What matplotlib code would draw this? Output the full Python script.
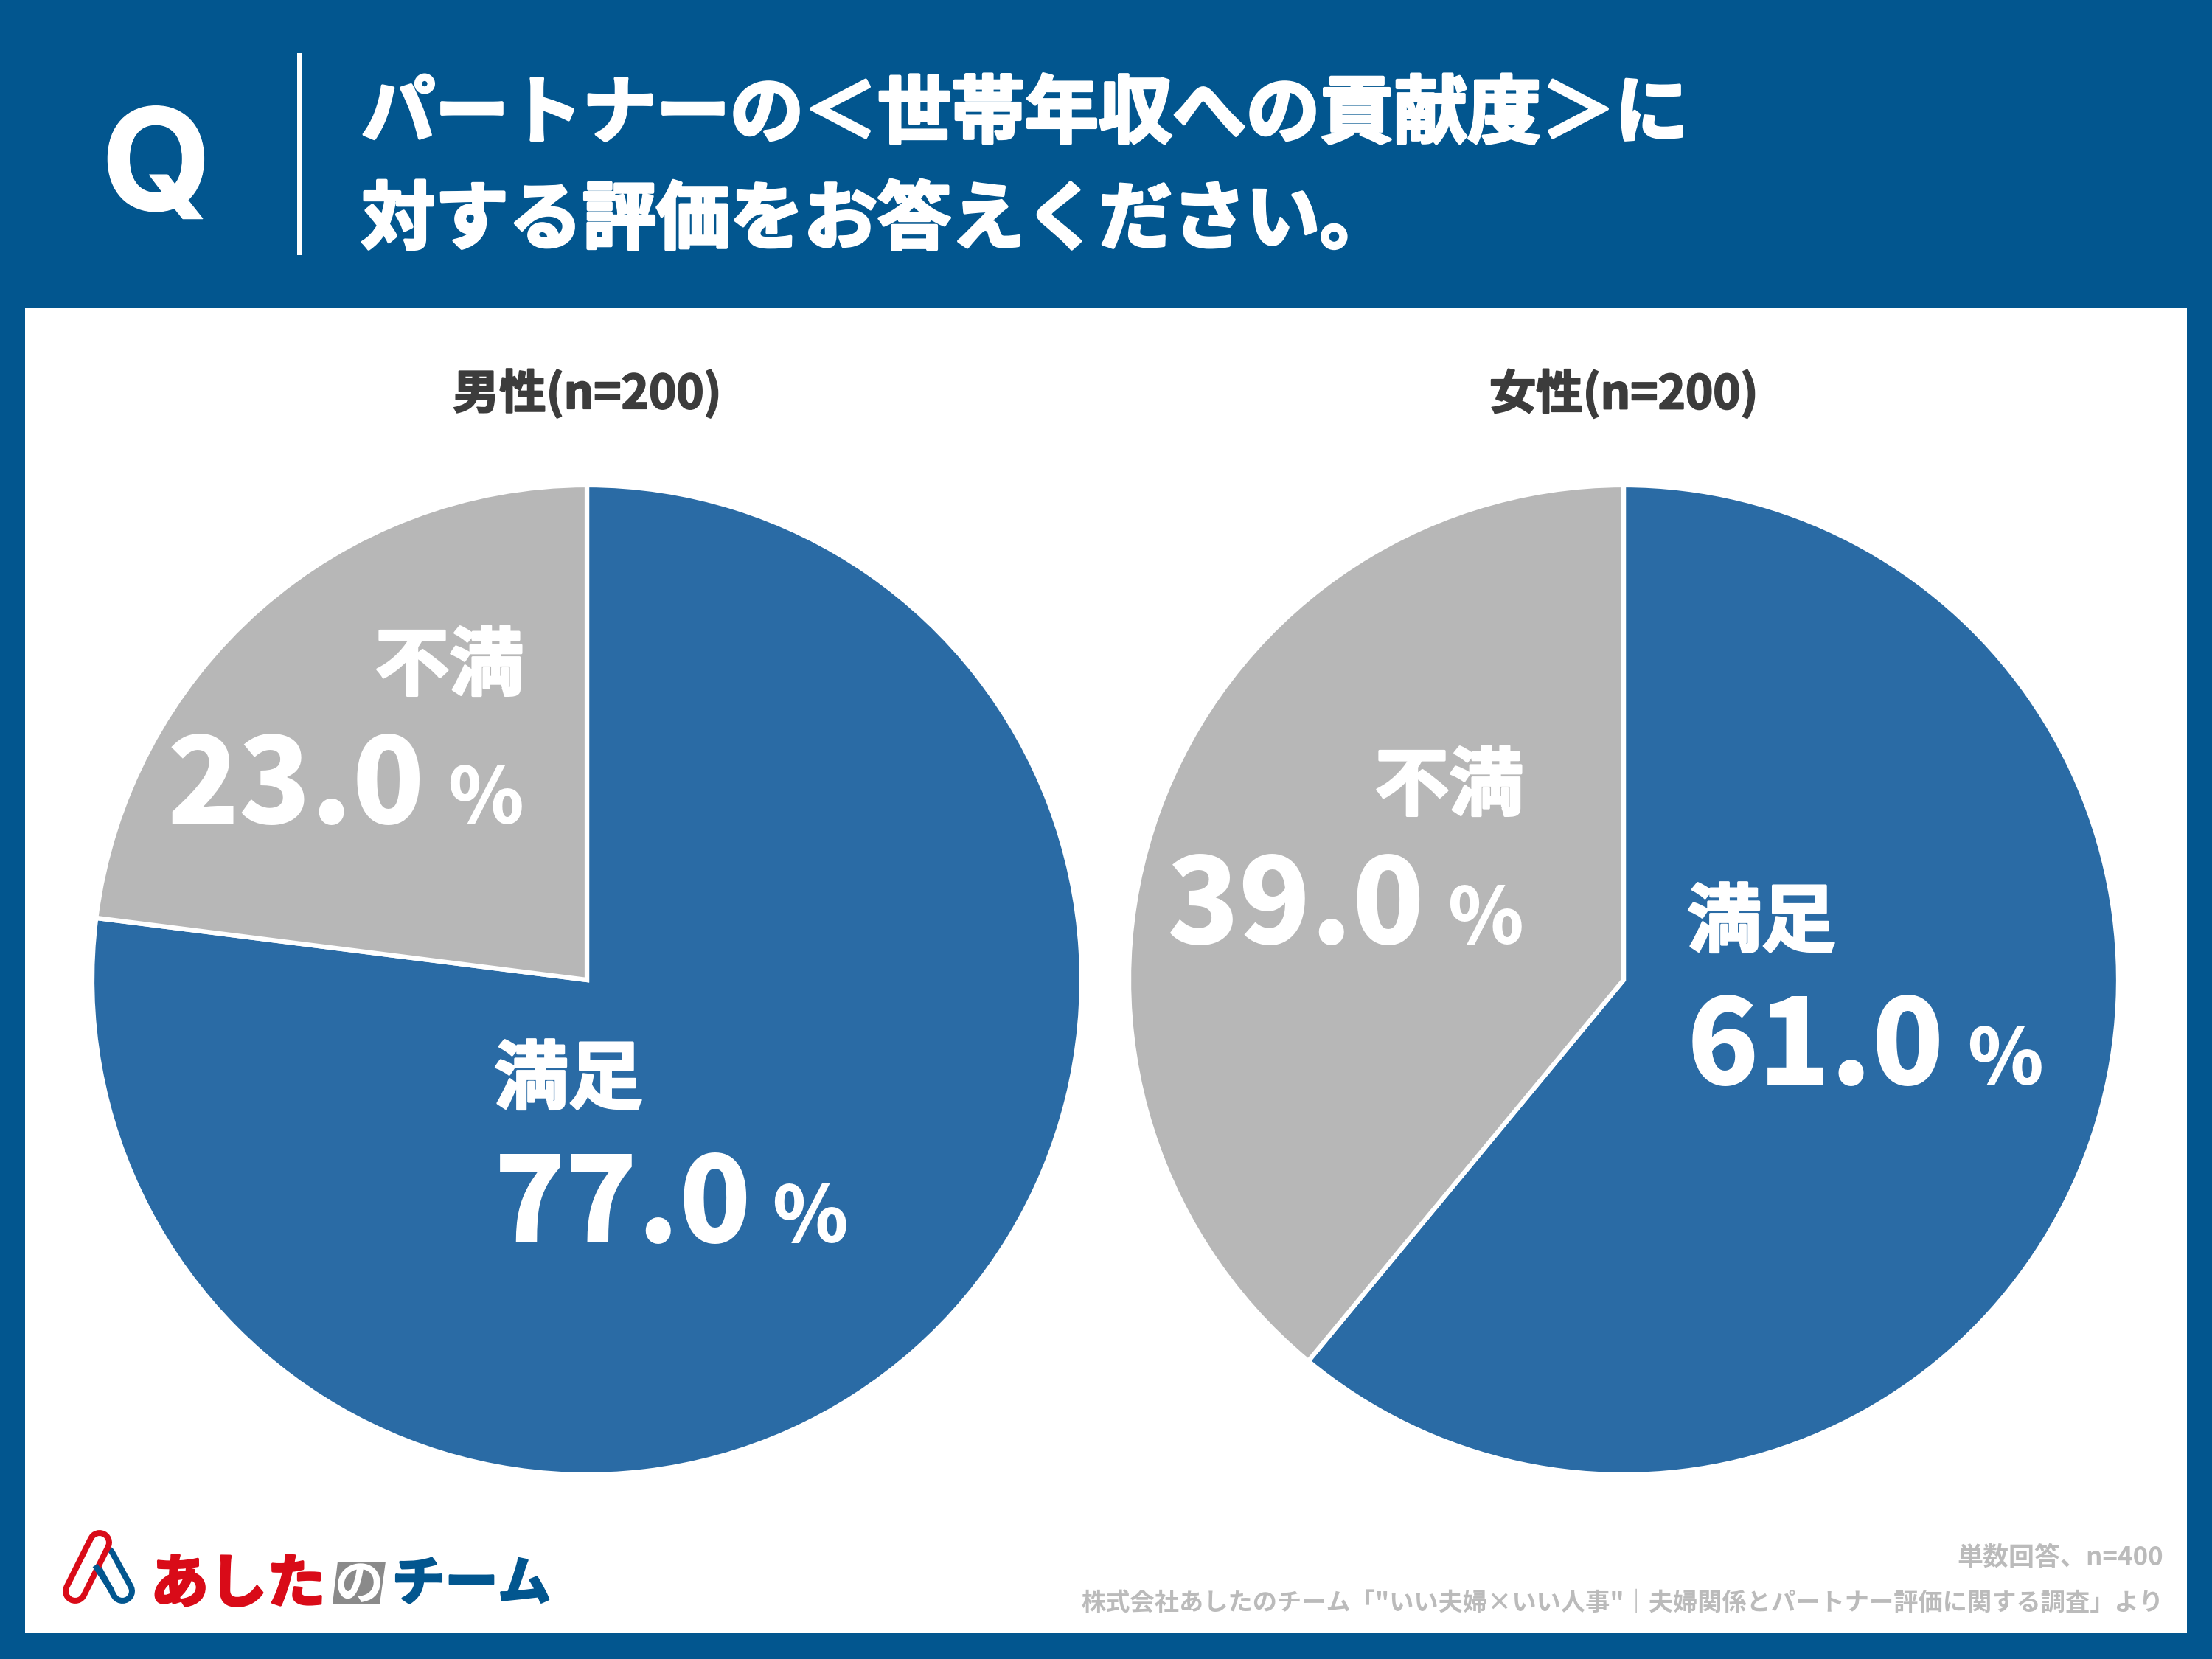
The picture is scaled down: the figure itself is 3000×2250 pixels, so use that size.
import matplotlib
matplotlib.use("Agg")
import matplotlib.pyplot as plt
import matplotlib.patheffects as pe
from matplotlib.patches import Rectangle, Polygon

CJK = ['Noto Sans CJK JP', 'DejaVu Sans']
plt.rcParams['font.family'] = CJK

title_lines = ["パートナーの＜世帯年収への貢献度＞に", "対する評価をお答えください。"]
groups = ["男性(n=200)", "女性(n=200)"]
categories = ["満足", "不満"]
male_values = [77.0, 23.0]
female_values = [61.0, 39.0]
footer_lines = ["単数回答、n=400", "株式会社あしたのチーム「\"いい夫婦×いい人事\"｜夫婦関係とパートナー評価に関する調査」より"]

BG = "#02568f"
BLUE = "#2a6ba5"
GREY = "#b7b7b7"
W, H = 3000, 2250

fig = plt.figure(figsize=(10, 7.5), dpi=300, facecolor=BG)
bg = fig.add_axes([0, 0, 1, 1])
bg.set_xlim(0, W); bg.set_ylim(H, 0); bg.axis("off")
bg.add_patch(Rectangle((34, 418), 2932, 1797, fc="white", ec="none"))
bg.add_patch(Rectangle((403, 72), 6, 274, fc="white", ec="none"))


def heavy(t, w):
    t.set_path_effects([pe.withStroke(linewidth=w, foreground=t.get_color())])
    return t


heavy(bg.text(212, 285, "Q", family=['Inter', 'DejaVu Sans'], weight='bold', fontsize=46, color="white",
              ha="center", va="baseline"), 0.3)
for y, line in zip((156, 300), title_lines):
    heavy(bg.text(490, y, line, fontsize=24, weight="bold", color="white", ha="left", va="center"), 1.0)


def draw_pie(cx, cy, r, values):
    ax = fig.add_axes([(cx - r) / W, 1 - (cy + r) / H, 2 * r / W, 2 * r / H])
    ax.pie(values, colors=[BLUE, GREY], startangle=90, counterclock=False, radius=1,
           wedgeprops=dict(edgecolor="white", linewidth=1.5))
    ax.set_xlim(-1.003, 1.003); ax.set_ylim(-1.003, 1.003)
    ax.patch.set_alpha(0)
    return ax


draw_pie(796, 1329, 673, male_values)
draw_pie(2202, 1329, 673, female_values)

top = fig.add_axes([0, 0, 1, 1], zorder=5)
top.set_xlim(0, W); top.set_ylim(H, 0); top.axis("off"); top.patch.set_alpha(0)

for x, g in zip((796, 2202), groups):
    heavy(top.text(x, 534, g, fontsize=15.2, weight="bold", color="#3c3c3c", ha="center", va="center"), 0.5)


def label(cat, val, cat_y, base, num_x, pct_x, left):
    ha = "left" if left else "right"
    heavy(top.text(num_x if left else pct_x, cat_y, cat, fontsize=24.2, weight="bold", color="white",
                   ha=ha, va="center"), 0.8)
    top.text(num_x, base, f"{val:.1f}", fontsize=38.5, weight="black", color="white", ha=ha, va="baseline")
    top.text(pct_x, base, "%", fontsize=25, weight="black", color="white", ha="right", va="baseline")


label(categories[0], male_values[0], 1466, 1685, 670, 1150, True)
label(categories[1], male_values[1], 905, 1117, 576, 710, False)
label(categories[0], female_values[0], 1253, 1471, 2288, 2771, True)
label(categories[1], female_values[1], 1068, 1280, 1932, 2066, False)

for y, line, fs in zip((2112, 2174), footer_lines, (8.4, 7.97)):
    top.text(2934, y, line, fontsize=fs, weight="bold", color="#bbbbbb", ha="right", va="center")


# logo clip mark
def stadium(x0, y0, x1, y1, col, lw_out=34, lw_in=18):
    k = 72 / 300
    top.plot([x0, x1], [y0, y1], color=col, lw=lw_out * k, solid_capstyle="round")
    top.plot([x0, x1], [y0, y1], color="white", lw=lw_in * k, solid_capstyle="round")


stadium(166, 2158, 141, 2112, "#02568f")
stadium(102, 2158, 135, 2092, "#d90b18")
# blue strand passing over red in the lower crossing
k = 72 / 300
top.plot([129, 152], [2123, 2158], color="#02568f", lw=8 * k, solid_capstyle="butt", zorder=4)

heavy(top.text(204, 2173, "あした", fontsize=19, weight="bold", color="#d90b18", ha="left", va="baseline"), 0.8)
top.add_patch(Polygon([(458, 2118), (523, 2118), (515, 2175), (451, 2175)], fc="#8a8a8a", ec="none"))
top.text(487, 2170, "の", fontsize=16, weight="bold", color="white", ha="center", va="baseline")
heavy(top.text(532, 2170, "チーム", fontsize=17.2, weight="bold", color="#02568f", ha="left", va="baseline"), 0.8)

fig.savefig("out.png", dpi=300, facecolor=BG)
